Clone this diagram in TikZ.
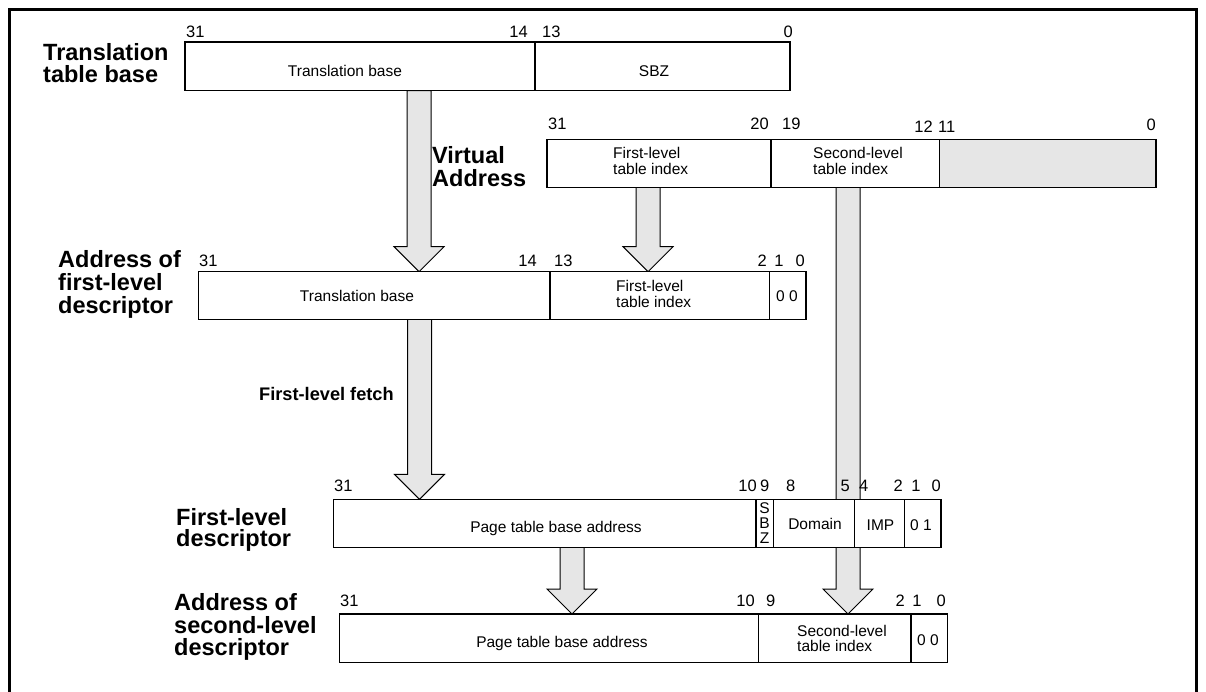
\documentclass[tikz,border=0pt]{standalone}
\usepackage{fontspec}
\setmainfont{Liberation Sans}
\usetikzlibrary{calc,fit}
\definecolor{argray}{HTML}{E6E6E6}
\tikzset{
  fld/.style={draw, line width=1.1pt, fill=white, inner sep=0pt, outer sep=0pt},
  gfld/.style={fld, fill=argray},
  ftxt/.style={inner sep=0pt, font=\fontsize{15.5}{15.5}\selectfont},
  bit/.style={inner sep=0pt, font=\fontsize{16.5}{16.5}\selectfont},
  ttl/.style={inner sep=0pt, anchor=base west, font=\fontsize{23.5}{23.5}\selectfont\bfseries},
  sttl/.style={inner sep=0pt, anchor=base west, font=\fontsize{18.2}{18.2}\selectfont\bfseries},
  blockarrow/.style={draw, line width=1pt, fill=argray, line join=miter},
  frame/.style={line width=3pt},
}
\newcommand\barrow[2]{%
  \draw[blockarrow] let \p1=(#1), \p2=(#2) in
    (\x1-12pt,\y1) -- (\x1+12pt,\y1) -- (\x1+12pt,\y2+25pt) -- (\x1+25pt,\y2+25pt)
    -- (\x1,\y2) -- (\x1-25pt,\y2+25pt) -- (\x1-12pt,\y2+25pt) -- cycle;}
\begin{document}
\begin{tikzpicture}[x=1pt,y=-1pt]
\useasboundingbox (0,0) rectangle (1206,691);
% frame
\draw[frame] (9.5,700) -- (9.5,9.5) -- (1196.5,9.5) -- (1196.5,700);

% arrow end points
\coordinate (a1s) at (419,90.7);   \coordinate (a1t) at (419,271.7);
\coordinate (a2s) at (648,187.3);  \coordinate (a2t) at (648,271.7);
\coordinate (a3s) at (848,187.3);  \coordinate (a3t) at (848,614);
\coordinate (a4s) at (419.5,319.3);\coordinate (a4t) at (419.5,499.3);
\coordinate (a5s) at (572,547.3);  \coordinate (a5t) at (572,614);
\barrow{a1s}{a1t}
\barrow{a2s}{a2t}
\barrow{a3s}{a3t}
\barrow{a4s}{a4t}
\barrow{a5s}{a5t}

% ---- Translation table base
\node[fld, fit={(185,42) (535,90.7)}] (tb1) {};
\node[fld, fit={(535,42) (790,90.7)}] (tb2) {};
\node[ftxt, anchor=base] (tb1t) at (345,76) {Translation base};
\node[ftxt, anchor=base] (tb2t) at (654,76) {SBZ};
\node[bit, anchor=base west] (tb31) at (186,37) {31};
\node[bit, anchor=base east] (tb14) at (528,37) {14};
\node[bit, anchor=base west] (tb13) at (542,37) {13};
\node[bit, anchor=base east] (tb0) at (793,37) {0};
\node[ttl] (tbl1) at (43,60) {Translation};
\node[ttl] (tbl2) at (43,82) {table base};

% ---- Virtual address
\node[fld, fit={(547,139.3) (771,187.3)}] (va1) {};
\node[fld, fit={(771,139.3) (939.3,187.3)}] (va2) {};
\node[gfld, fit={(939.3,139.3) (1156,187.3)}] (va3) {};
\node[ftxt, anchor=base west] (va1a) at (613,158) {First-level};
\node[ftxt, anchor=base west] (va1b) at (613,174) {table index};
\node[ftxt, anchor=base west] (va2a) at (813,158) {Second-level};
\node[ftxt, anchor=base west] (va2b) at (813,174) {table index};
\node[bit, anchor=base west] (va31) at (548,129) {31};
\node[bit, anchor=base east] (va20) at (769,129) {20};
\node[bit, anchor=base west] (va19) at (782,129) {19};
\node[bit, anchor=base east] (va12) at (933,132) {12};
\node[bit, anchor=base west] (va11) at (938,132) {11};
\node[bit, anchor=base east] (va0) at (1156,130) {0};
\node[ttl] (val1) at (432,163) {Virtual};
\node[ttl] (val2) at (432,186) {Address};

% ---- Address of first-level descriptor
\node[fld, fit={(198.3,271.7) (550,319.3)}] (af1) {};
\node[fld, fit={(550,271.7) (769.3,319.3)}] (af2) {};
\node[fld, fit={(769.3,271.7) (806,319.3)}] (af3) {};
\node[ftxt, anchor=base] (af1t) at (357,301) {Translation base};
\node[ftxt, anchor=base west] (af2a) at (616,291.7) {First-level};
\node[ftxt, anchor=base west] (af2b) at (616,307) {table index};
\node[ftxt, anchor=base] (af3t) at (787,301) {0 0};
\node[bit, anchor=base west] (af31) at (199,266.7) {31};
\node[bit, anchor=base east] (af14) at (537,266.7) {14};
\node[bit, anchor=base west] (af13) at (554,266.7) {13};
\node[bit, anchor=base east] (af2n) at (767,266.7) {2};
\node[bit, anchor=base] (af1n) at (779,266.7) {1};
\node[bit, anchor=base east] (af0n) at (805,266.7) {0};
\node[ttl] (afl1) at (58,267) {Address of};
\node[ttl] (afl2) at (58,290) {first-level};
\node[ttl] (afl3) at (58,313) {descriptor};

\node[sttl] (fetch) at (259,400.7) {First-level fetch};

% ---- First-level descriptor
\node[fld, fit={(333.3,499.3) (756,547.3)}] (fd1) {};
\node[fld, fit={(756,499.3) (773.3,547.3)}] (fd2) {};
\node[fld, fit={(773.3,499.3) (854.3,547.3)}] (fd3) {};
\node[fld, fit={(854.3,499.3) (904.3,547.3)}] (fd4) {};
\node[fld, fit={(904.3,499.3) (941,547.3)}] (fd5) {};
\node[ftxt, anchor=base] (fd1t) at (556,532) {Page table base address};
\node[ftxt, anchor=base] (fd2s) at (764.6,513) {S};
\node[ftxt, anchor=base] (fd2b) at (764.6,528) {B};
\node[ftxt, anchor=base] (fd2z) at (764.6,543) {Z};
\node[ftxt, anchor=base] (fd3t) at (815,529) {Domain};
\node[ftxt, anchor=base] (fd4t) at (880.5,530) {IMP};
\node[ftxt, anchor=base] (fd5t) at (921,530) {0 1};
\node[bit, anchor=base west] (fd31) at (334,491.7) {31};
\node[bit, anchor=base east] (fd10) at (757,491.7) {10};
\node[bit, anchor=base west] (fd9) at (760,491.7) {9};
\node[bit, anchor=base west] (fd8) at (786,491.7) {8};
\node[bit, anchor=base east] (fd5n) at (850,491.7) {5};
\node[bit, anchor=base west] (fd4n) at (859,491.7) {4};
\node[bit, anchor=base east] (fd2n) at (903,491.7) {2};
\node[bit, anchor=base] (fd1n) at (916,491.7) {1};
\node[bit, anchor=base east] (fd0n) at (941,491.7) {0};
\node[ttl] (fdl1) at (176,525) {First-level};
\node[ttl] (fdl2) at (176,546.7) {descriptor};

% ---- Address of second-level descriptor
\node[fld, fit={(339.3,614) (758.3,662.3)}] (as1) {};
\node[fld, fit={(758.3,614) (911,662.3)}] (as2) {};
\node[fld, fit={(911,614) (947.7,662.3)}] (as3) {};
\node[ftxt, anchor=base] (as1t) at (562,647) {Page table base address};
\node[ftxt, anchor=base west] (as2a) at (797,636) {Second-level};
\node[ftxt, anchor=base west] (as2b) at (797,651.5) {table index};
\node[ftxt, anchor=base] (as3t) at (928,645) {0 0};
\node[bit, anchor=base west] (as31) at (340,606.7) {31};
\node[bit, anchor=base east] (as10) at (755,606.7) {10};
\node[bit, anchor=base west] (as9) at (766,606.7) {9};
\node[bit, anchor=base east] (as2n) at (905,606.7) {2};
\node[bit, anchor=base] (as1n) at (917,606.7) {1};
\node[bit, anchor=base east] (as0n) at (946,606.7) {0};
\node[ttl] (asl1) at (174,610.7) {Address of};
\node[ttl] (asl2) at (174,633) {second-level};
\node[ttl] (asl3) at (174,655) {descriptor};
\end{tikzpicture}
\end{document}
